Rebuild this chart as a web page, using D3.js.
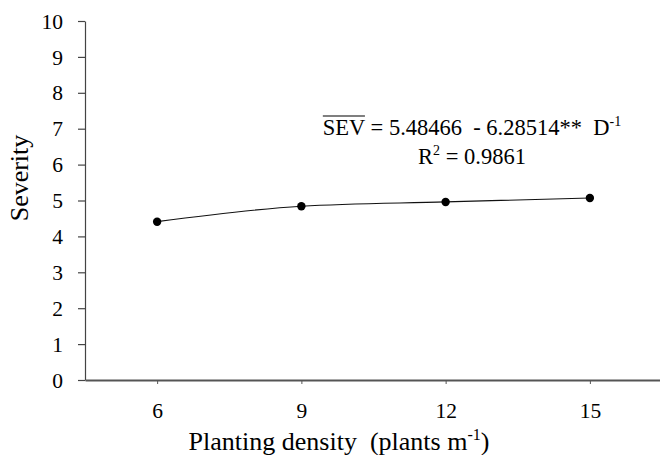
<!DOCTYPE html>
<html>
<head>
<meta charset="utf-8">
<script src="https://cdn.jsdelivr.net/npm/d3@7"></script>
<style>
  body { margin: 0; background: #fff; }
  svg text { font-family: "Liberation Serif", Tinos, "Times New Roman", Times, serif; fill: #000; }
</style>
</head>
<body>
<div id="chart"></div>
<script>
// data
var density = [6, 9, 12, 15];
var severity = [4.41, 4.84, 4.96, 5.07];
var yTicks = [0, 1, 2, 3, 4, 5, 6, 7, 8, 9, 10];
var eqText = ["SEV", " = 5.48466  - 6.28514**  D", "-1"];
var r2Text = ["R", "2", " = 0.9861"];

var W = 660, H = 455;
var serif = "'Liberation Serif', Tinos, 'Times New Roman', Times, serif";
var svg = d3.select("#chart").append("svg")
	.attr("width", W).attr("height", H)
	.attr("font-family", serif);

var x = d3.scaleLinear().domain([4.5, 16.5]).range([85, 662]);
var y = d3.scaleLinear().domain([0, 10]).range([380, 21]);

// y axis
var gy = svg.append("g").attr("transform", "translate(85,0)")
	.call(d3.axisLeft(y).tickValues(yTicks).tickSize(7).tickPadding(15).tickSizeOuter(0));
gy.attr("font-family", serif).attr("font-size", 21.5);
gy.select(".domain").attr("stroke", "#444").attr("stroke-width", 1.2);
gy.selectAll(".tick line").attr("stroke", "#444").attr("stroke-width", 1.2);
gy.selectAll(".tick text").attr("dy", "0.33em");

// x axis
var gx = svg.append("g").attr("transform", "translate(0,380)")
	.call(d3.axisBottom(x).tickValues(density).tickSize(4).tickPadding(19).tickSizeOuter(0));
gx.attr("font-family", serif).attr("font-size", 21.5);
gx.select(".domain").attr("stroke", "#555").attr("stroke-width", 2.2);
gx.selectAll(".tick line").attr("stroke", "#555").attr("stroke-width", 1);

// axis titles
svg.append("text")
	.attr("transform", "translate(28,178) rotate(-90)")
	.attr("text-anchor", "middle")
	.attr("font-size", 26)
	.text("Severity");

var xt = svg.append("text")
	.attr("x", 339).attr("y", 450)
	.attr("text-anchor", "middle")
	.attr("font-size", 26)
	.attr("xml:space", "preserve");
xt.append("tspan").text("Planting density  (plants m");
xt.append("tspan").attr("font-size", 16).attr("dy", -10).text("-1");
xt.append("tspan").attr("dy", 10).text(")");

// fitted curve through the points
var pts = density.map(function(d, i){ return [d, severity[i]]; });
var line = d3.line()
	.x(function(d){ return x(d[0]); })
	.y(function(d){ return y(d[1]); })
	.curve(d3.curveMonotoneX);

svg.append("path")
	.datum(pts)
	.attr("d", line)
	.attr("fill", "none")
	.attr("stroke", "#111")
	.attr("stroke-width", 1.2);

svg.selectAll(".pt").data(pts).enter().append("circle")
	.attr("class", "pt")
	.attr("cx", function(d){ return x(d[0]); })
	.attr("cy", function(d){ return y(d[1]); })
	.attr("r", 4.2)
	.attr("fill", "#000");

// equation
var eq = svg.append("text")
	.attr("x", 472).attr("y", 135)
	.attr("text-anchor", "middle")
	.attr("font-size", 22.5)
	.attr("xml:space", "preserve");
eq.append("tspan").text(eqText[0]);
eq.append("tspan").text(eqText[1]);
eq.append("tspan").attr("font-size", 14).attr("dy", -9).text(eqText[2]);

var sevLen = eq.node().getSubStringLength(0, 3);
var start = eq.node().getStartPositionOfChar(0).x;
svg.append("line")
	.attr("x1", start).attr("x2", start + sevLen)
	.attr("y1", 116).attr("y2", 116)
	.attr("stroke", "#000").attr("stroke-width", 1.2);

var r2 = svg.append("text")
	.attr("x", 472).attr("y", 164)
	.attr("text-anchor", "middle")
	.attr("font-size", 22.5);
r2.append("tspan").text(r2Text[0]);
r2.append("tspan").attr("font-size", 14).attr("dy", -9).text(r2Text[1]);
r2.append("tspan").attr("dy", 9).text(r2Text[2]);
</script>
</body>
</html>
